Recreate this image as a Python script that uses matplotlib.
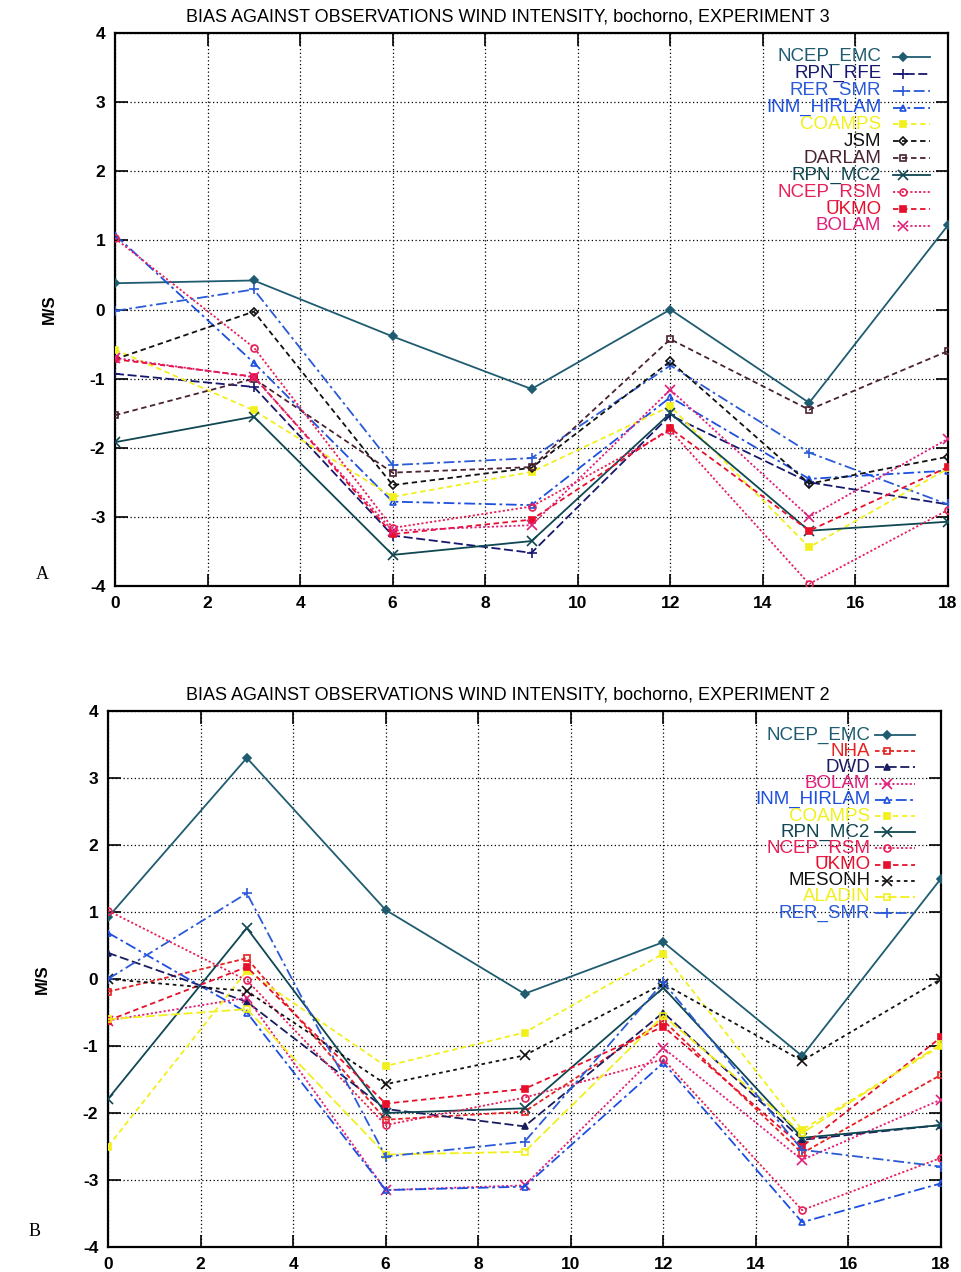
import matplotlib
matplotlib.use("Agg")
import matplotlib.pyplot as plt

plt.rcParams['font.family'] = ['Liberation Sans', 'DejaVu Sans']
plt.rcParams['axes.unicode_minus'] = False

hours = [0, 3, 6, 9, 12, 15, 18]

# Experiment 3 wind-intensity bias (m/s)
exp3_ncep_emc = [0.38, 0.42, -0.39, -1.15, 0.0, -1.35, 1.22]
exp3_rpn_rfe = [-0.93, -1.12, -3.27, -3.52, -1.53, -2.5, -2.82]
exp3_rer_smr = [-0.02, 0.29, -2.25, -2.15, -0.81, -2.07, -2.82]
exp3_inm_hirlam = [1.08, -0.77, -2.78, -2.83, -1.27, -2.45, -2.33]
exp3_coamps = [-0.58, -1.46, -2.71, -2.35, -1.4, -3.44, -2.3]
exp3_jsm = [-0.72, -0.03, -2.54, -2.29, -0.75, -2.52, -2.13]
exp3_darlam = [-1.53, -1.0, -2.36, -2.28, -0.43, -1.45, -0.6]
exp3_rpn_mc2 = [-1.92, -1.55, -3.55, -3.35, -1.5, -3.2, -3.07]
exp3_ncep_rsm = [1.03, -0.55, -3.16, -2.85, -1.75, -3.97, -2.9]
exp3_ukmo = [-0.72, -0.97, -3.25, -3.04, -1.72, -3.2, -2.28]
exp3_bolam = [-0.7, -0.98, -3.2, -3.12, -1.16, -3.0, -1.87]

# Experiment 2 wind-intensity bias (m/s)
exp2_ncep_emc = [0.92, 3.3, 1.03, -0.22, 0.55, -1.15, 1.5]
exp2_nha = [-0.19, 0.31, -2.1, -1.98, -0.62, -2.6, -1.43]
exp2_dwd = [0.39, -0.34, -1.94, -2.2, -0.5, -2.4, -2.18]
exp2_bolam = [-0.62, -0.28, -3.15, -3.08, -1.03, -2.7, -1.8]
exp2_inm_hirlam = [0.69, -0.5, -3.15, -3.1, -1.25, -3.63, -3.05]
exp2_coamps = [-2.5, 0.12, -1.3, -0.8, 0.38, -2.25, -1.0]
exp2_rpn_mc2 = [-1.79, 0.76, -2.0, -1.93, -0.13, -2.37, -2.18]
exp2_ncep_rsm = [1.02, -0.02, -2.18, -1.77, -1.2, -3.45, -2.67]
exp2_ukmo = [-0.62, 0.18, -1.86, -1.64, -0.71, -2.5, -0.87]
exp2_mesonh = [0.0, -0.18, -1.57, -1.14, -0.07, -1.22, 0.0]
exp2_aladin = [-0.6, -0.45, -2.62, -2.58, -0.55, -2.3, -0.97]
exp2_rer_smr = [0.0, 1.28, -2.65, -2.43, -0.05, -2.55, -2.8]

exp3_series = [
    ("NCEP_EMC", exp3_ncep_emc), ("RPN_RFE", exp3_rpn_rfe),
    ("RER_SMR", exp3_rer_smr), ("INM_HIRLAM", exp3_inm_hirlam),
    ("COAMPS", exp3_coamps), ("JSM", exp3_jsm), ("DARLAM", exp3_darlam),
    ("RPN_MC2", exp3_rpn_mc2), ("NCEP_RSM", exp3_ncep_rsm),
    ("UKMO", exp3_ukmo), ("BOLAM", exp3_bolam),
]
exp2_series = [
    ("NCEP_EMC", exp2_ncep_emc), ("NHA", exp2_nha), ("DWD", exp2_dwd),
    ("BOLAM", exp2_bolam), ("INM_HIRLAM", exp2_inm_hirlam),
    ("COAMPS", exp2_coamps), ("RPN_MC2", exp2_rpn_mc2),
    ("NCEP_RSM", exp2_ncep_rsm), ("UKMO", exp2_ukmo),
    ("MESONH", exp2_mesonh), ("ALADIN", exp2_aladin),
    ("RER_SMR", exp2_rer_smr),
]

SOLID = '-'
DASH = (0, (5, 2))
SHORTDASH = (0, (3, 2))
DASHDOT = (0, (6, 2, 1.5, 2))
DOT = (0, (1.2, 1.2))

# color, linestyle, marker, filled marker
styles = {
    "NCEP_EMC": ('#1f5c70', SOLID, 'D', True),
    "RPN_RFE": ('#16186e', DASH, '+', True),
    "RER_SMR": ('#2a5ad6', DASHDOT, '+', True),
    "INM_HIRLAM": ('#1d4fe0', DASHDOT, '^', False),
    "COAMPS": ('#f2f01c', SHORTDASH, 's', True),
    "JSM": ('#111111', SHORTDASH, 'D', False),
    "DARLAM": ('#4a2232', SHORTDASH, 's', False),
    "RPN_MC2": ('#0f4752', SOLID, 'x', True),
    "NCEP_RSM": ('#e62058', DOT, 'o', False),
    "UKMO": ('#e6102c', SHORTDASH, 's', True),
    "BOLAM": ('#e0207a', DOT, 'x', True),
    "NHA": ('#e62222', (0, (2.5, 1.5)), 's', False),
    "DWD": ('#1a1c60', DASH, '^', True),
    "MESONH": ('#111111', (0, (2, 2)), 'x', True),
    "ALADIN": ('#f2f01c', DASH, 's', False),
}


def line_kw(name):
    color, ls, marker, filled = styles[name]
    ms = 5 if marker in ('s', 'o', '^') else 7
    if marker == 'D':
        ms = 4.5
    return dict(color=color, linestyle=ls, marker=marker, markersize=ms,
                markerfacecolor=color if filled else 'none',
                markeredgecolor=color, markeredgewidth=1.2, linewidth=1.3)


def draw_panel(ax, series, title_y, title, key_x, key_y0, key_dy, tag, tag_xy):
    for name, vals in series:
        ax.plot(hours, vals, zorder=3, **line_kw(name))

    # key: label on the left, line sample with marker on the right
    for i, (name, _) in enumerate(series):
        y = key_y0 - i * key_dy
        kw = line_kw(name)
        ax.text(key_x[0], y, name, transform=ax.transAxes, ha='right',
                va='center', fontsize=13.5, color=kw['color'], zorder=5)
        ax.plot([key_x[1], key_x[2]], [y, y], transform=ax.transAxes,
                clip_on=False, zorder=5, color=kw['color'],
                linestyle=kw['linestyle'], linewidth=kw['linewidth'])
        ax.plot([(key_x[1] + key_x[2]) / 2 - 0.01], [y], transform=ax.transAxes,
                clip_on=False, zorder=6, linestyle='none',
                marker=kw['marker'], markersize=kw['markersize'],
                markerfacecolor=kw['markerfacecolor'],
                markeredgecolor=kw['markeredgecolor'], markeredgewidth=1.2)

    ax.set_xlim(0, 18)
    ax.set_ylim(-4, 4)
    ax.set_xticks(range(0, 19, 2))
    ax.set_yticks(range(-4, 5))
    ax.grid(True, color='black', linestyle=(0, (1, 2)), linewidth=0.9)
    ax.tick_params(direction='in', length=9, width=1.2, top=True, right=True,
                   labelsize=12.5, pad=7)
    for lab in ax.get_xticklabels() + ax.get_yticklabels():
        lab.set_fontweight('bold')
    for sp in ax.spines.values():
        sp.set_linewidth(1.6)
    ax.set_ylabel('M/S', fontsize=12, fontweight='bold', labelpad=24)

    fig.text(0.528, title_y, title, ha='center', va='center', fontsize=13)
    fig.text(tag_xy[0], tag_xy[1], tag, ha='center', va='center',
             fontsize=13, family='Liberation Serif')


fig = plt.figure(figsize=(9.61, 12.72), dpi=100)
ax_a = fig.add_axes([115 / 961, 1 - 586 / 1272, 833 / 961, 553 / 1272])
ax_b = fig.add_axes([108 / 961, 1 - 1247 / 1272, 833 / 961, 536 / 1272])

draw_panel(ax_a, exp3_series, 1 - 17 / 1272,
           'BIAS AGAINST OBSERVATIONS WIND INTENSITY, bochorno, EXPERIMENT 3',
           (0.920, 0.934, 0.978), 0.957, 0.0306, 'A', (42 / 961, 1 - 575 / 1272))
draw_panel(ax_b, exp2_series, 1 - 695 / 1272,
           'BIAS AGAINST OBSERVATIONS WIND INTENSITY, bochorno, EXPERIMENT 2',
           (0.915, 0.921, 0.969), 0.955, 0.0302, 'B', (35 / 961, 1 - 1232 / 1272))

fig.savefig('out.png', dpi=100)
